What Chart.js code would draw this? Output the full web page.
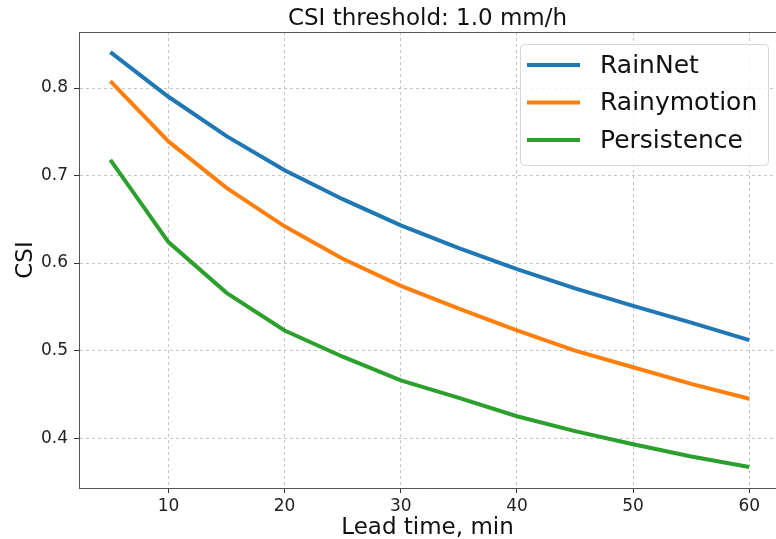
<!DOCTYPE html>
<html>
<head>
<meta charset="utf-8">
<script src="https://cdn.jsdelivr.net/npm/chart.js@4/dist/chart.umd.min.js"></script>
<style>
  html, body { margin: 0; padding: 0; background: #fff; }
  #wrap { width: 776px; height: 539px; }
</style>
</head>
<body>
<div id="wrap"><canvas id="csiChart" width="776" height="539"></canvas></div>
<script>
const leadTimes = [5, 10, 15, 20, 25, 30, 35, 40, 45, 50, 55, 60];
const rainnet = [0.841, 0.790, 0.745, 0.706, 0.673, 0.643, 0.617, 0.593, 0.571, 0.551, 0.532, 0.512];
const rainymotion = [0.808, 0.739, 0.686, 0.642, 0.605, 0.574, 0.548, 0.523, 0.500, 0.481, 0.462, 0.445];
const persistence = [0.718, 0.624, 0.566, 0.523, 0.493, 0.466, 0.446, 0.425, 0.408, 0.393, 0.379, 0.367];
const xTicks = [10, 20, 30, 40, 50, 60];
const yTicks = [0.4, 0.5, 0.6, 0.7, 0.8];

const font = "'DejaVu Sans', sans-serif";

function toPoints(values) {
  return leadTimes.map((t, i) => ({ x: t, y: values[i] }));
}

// top spine, like matplotlib's box
const frame = {
  id: "frame",
  afterDraw(chart) {
    const { ctx, chartArea } = chart;
    ctx.save();
    ctx.strokeStyle = "#555";
    ctx.lineWidth = 1;
    ctx.beginPath();
    ctx.moveTo(chartArea.left, chartArea.top + 0.5);
    ctx.lineTo(chartArea.right, chartArea.top + 0.5);
    ctx.stroke();
    ctx.restore();
  }
};

// legend drawn inside the plot, upper right
const innerLegend = {
  id: "innerLegend",
  afterDraw(chart) {
    const { ctx, chartArea } = chart;
    const sets = chart.data.datasets;
    const w = 248, h = 121;
    const x = chartArea.right - 8 - w;
    const y = chartArea.top + 12;
    ctx.save();
    ctx.fillStyle = "rgba(255,255,255,0.8)";
    ctx.strokeStyle = "#d6d6d6";
    ctx.lineWidth = 1;
    ctx.beginPath();
    ctx.roundRect(x + 0.5, y + 0.5, w, h, 4);
    ctx.fill();
    ctx.stroke();
    ctx.font = "25px " + font;
    ctx.textBaseline = "middle";
    sets.forEach((ds, i) => {
      const ly = y + 21 + i * 37.5;
      ctx.strokeStyle = ds.borderColor;
      ctx.lineWidth = 4;
      ctx.beginPath();
      ctx.moveTo(x + 7, ly);
      ctx.lineTo(x + 60, ly);
      ctx.stroke();
      ctx.fillStyle = "#111";
      ctx.fillText(ds.label, x + 80, ly + 1);
    });
    ctx.restore();
  }
};

const grid = {
  color: "#b8b8b8",
  lineWidth: 0.8,
  tickColor: "#333",
  tickLength: 5,
  tickBorderDash: [],
  tickWidth: 1
};
const border = { color: "#555", width: 1, dash: [3, 3] };

new Chart(document.getElementById("csiChart").getContext("2d"), {
  type: "line",
  data: {
    datasets: [
      { label: "RainNet", data: toPoints(rainnet), borderColor: "#1f77b4" },
      { label: "Rainymotion", data: toPoints(rainymotion), borderColor: "#ff7f0e" },
      { label: "Persistence", data: toPoints(persistence), borderColor: "#2ca02c" }
    ]
  },
  options: {
    responsive: false,
    animation: false,
    layout: { padding: 0 },
    elements: {
      line: { borderWidth: 4, tension: 0, fill: false },
      point: { radius: 0 }
    },
    plugins: {
      legend: { display: false },
      tooltip: { enabled: false },
      title: {
        display: true,
        fullSize: false,
        text: "CSI threshold: 1.0 mm/h",
        color: "#111",
        font: { family: font, size: 23, weight: "normal" },
        padding: { top: 5.5, bottom: -1.1 }
      }
    },
    scales: {
      x: {
        type: "linear",
        min: 2.3,
        max: 62.3,
        grid: grid,
        border: border,
        afterBuildTicks: s => { s.ticks = xTicks.map(v => ({ value: v })); },
        afterFit: s => { s.height = 51; },
        ticks: { color: "#222", font: { family: font, size: 17 }, padding: 3 },
        title: {
          display: true,
          text: "Lead time, min",
          color: "#111",
          font: { family: font, size: 23 },
          padding: { top: 0, bottom: -3 }
        }
      },
      y: {
        type: "linear",
        min: 0.343,
        max: 0.864,
        grid: grid,
        border: border,
        afterBuildTicks: s => { s.ticks = yTicks.map(v => ({ value: v })); },
        afterFit: s => { s.width = 79; },
        ticks: {
          color: "#222",
          font: { family: font, size: 17 },
          padding: 6,
          callback: v => v.toFixed(1)
        },
        title: {
          display: true,
          text: "CSI",
          color: "#111",
          font: { family: font, size: 23 },
          padding: { top: 12, bottom: 0 }
        }
      }
    }
  },
  plugins: [frame, innerLegend]
});
</script>
</body>
</html>
